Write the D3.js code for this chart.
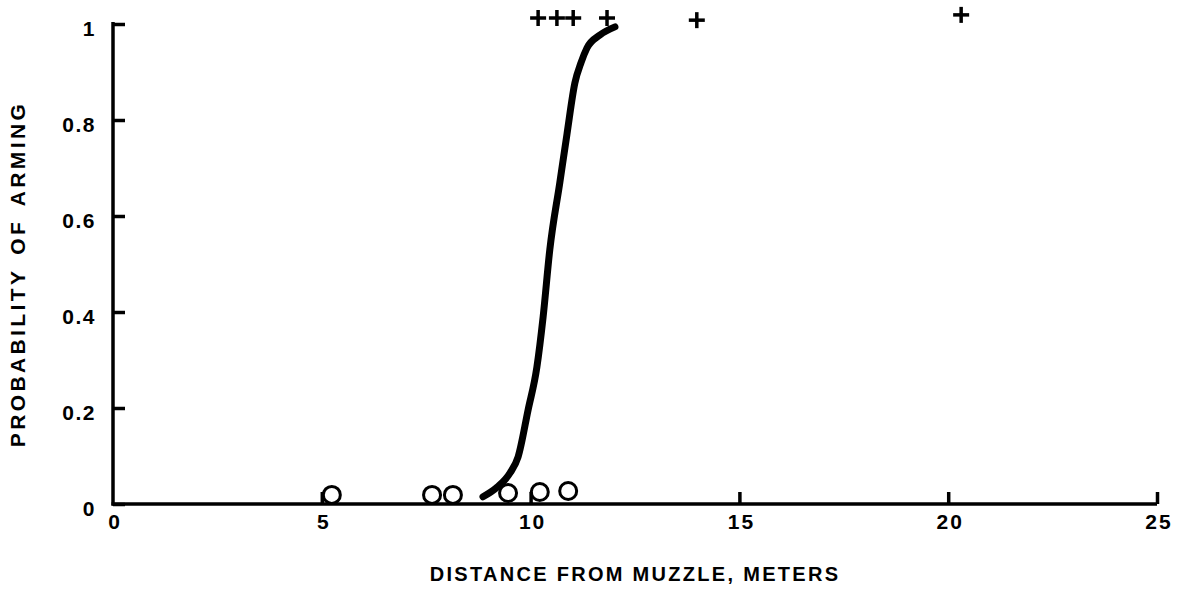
<!DOCTYPE html>
<html><head><meta charset="utf-8">
<script src="https://cdn.jsdelivr.net/npm/d3@7"></script>
<style>html,body{margin:0;padding:0;background:#fff;}svg{display:block;}</style>
</head><body>
<svg id="c" width="1185" height="614"></svg>
<script>
// Data
const xTicks = [0, 5, 10, 15, 20, 25];
const yTicks = [0, 0.2, 0.4, 0.6, 0.8, 1];
const yTickLabels = ["0", "0.2", "0.4", "0.6", "0.8", "1"];
// non-armed trials (circles)
const failX = [5.24, 7.64, 8.14, 9.46, 10.22, 10.90];
const failY = [0.019, 0.019, 0.019, 0.023, 0.025, 0.027];
// armed trials (pluses)
const armX = [10.18, 10.63, 11.02, 11.83, 13.98, 20.31];
const armY = [1.0125, 1.0125, 1.0125, 1.0125, 1.008, 1.019];
// fitted curve
const curveX = [8.86, 9.20, 9.51, 9.70, 9.94, 10.15, 10.30, 10.46, 10.70, 10.87, 11.06, 11.21, 11.35, 11.66, 12.02];
const curveY = [0.015, 0.035, 0.065, 0.098, 0.196, 0.285, 0.39, 0.53, 0.67, 0.77, 0.877, 0.92, 0.95, 0.977, 0.994];

const svg = d3.select("#c");
const x = d3.scaleLinear().domain([0, 25]).range([113, 1157]);
const y = d3.scaleLinear().domain([0, 1]).range([504, 24]);
const font = "'Liberation Sans', Arial, Helvetica, sans-serif";

// Axes lines
const yAxis = d3.axisRight(y).tickValues(yTicks).tickSize(12).tickFormat("");
const gy = svg.append("g").attr("transform", `translate(${x(0)},0)`).call(yAxis);
gy.select(".domain").remove();
gy.selectAll(".tick line").attr("stroke", "#000").attr("stroke-width", 3.5);

const xAxis = d3.axisTop(x).tickValues(xTicks.slice(1)).tickSize(12).tickFormat("");
const gx = svg.append("g").attr("transform", `translate(0,${y(0)})`).call(xAxis);
gx.select(".domain").remove();
gx.selectAll(".tick line").attr("stroke", "#000").attr("stroke-width", 3.5);

svg.append("line").attr("x1", x(0)).attr("x2", x(0)).attr("y1", y(1) - 2).attr("y2", y(0) + 1.5)
  .attr("stroke", "#000").attr("stroke-width", 3.5);
svg.append("line").attr("x1", x(0) - 1.5).attr("x2", x(25)).attr("y1", y(0)).attr("y2", y(0))
  .attr("stroke", "#000").attr("stroke-width", 3.5);

// Tick labels
svg.append("g").selectAll("text").data(yTicks).join("text")
  .attr("x", 96).attr("y", d => y(d) + 4).attr("dy", "0.36em")
  .attr("text-anchor", "end").attr("font-family", font).attr("font-weight", "bold")
  .attr("font-size", 21).attr("letter-spacing", 1.5).text((d, i) => yTickLabels[i]);

svg.append("g").selectAll("text").data(xTicks).join("text")
  .attr("x", d => x(d) + 2).attr("y", 529)
  .attr("text-anchor", "middle").attr("font-family", font).attr("font-weight", "bold")
  .attr("font-size", 21).attr("letter-spacing", 2).text(d => d);

// Axis titles
svg.append("text").attr("x", 635).attr("y", 581).attr("text-anchor", "middle")
  .attr("font-family", font).attr("font-weight", "bold").attr("font-size", 20)
  .attr("letter-spacing", 2.3)
  .text("DISTANCE FROM MUZZLE, METERS");
svg.append("text").attr("transform", "translate(25,274) rotate(-90)").attr("text-anchor", "middle")
  .attr("font-family", font).attr("font-weight", "bold").attr("font-size", 21)
  .attr("letter-spacing", 3.4).attr("word-spacing", 4)
  .text("PROBABILITY OF ARMING");

// Curve
const curveData = curveX.map((d, i) => [d, curveY[i]]);
svg.append("path").datum(curveData)
  .attr("d", d3.line().x(d => x(d[0])).y(d => y(d[1])).curve(d3.curveMonotoneX))
  .attr("fill", "none").attr("stroke", "#000").attr("stroke-width", 7).attr("stroke-linecap", "round");

// Circles
svg.append("g").selectAll("circle").data(failX.map((d, i) => [d, failY[i]])).join("circle")
  .attr("cx", d => x(d[0])).attr("cy", d => y(d[1])).attr("r", 8.5)
  .attr("fill", "none").attr("stroke", "#000").attr("stroke-width", 3);

// Pluses
const plus = svg.append("g").selectAll("g").data(armX.map((d, i) => [d, armY[i]])).join("g")
  .attr("transform", d => `translate(${x(d[0])},${y(d[1])})`);
plus.append("line").attr("x1", -8).attr("x2", 8).attr("stroke", "#000").attr("stroke-width", 3.5);
plus.append("line").attr("y1", -8).attr("y2", 8).attr("stroke", "#000").attr("stroke-width", 3.5);
</script>
</body></html>
